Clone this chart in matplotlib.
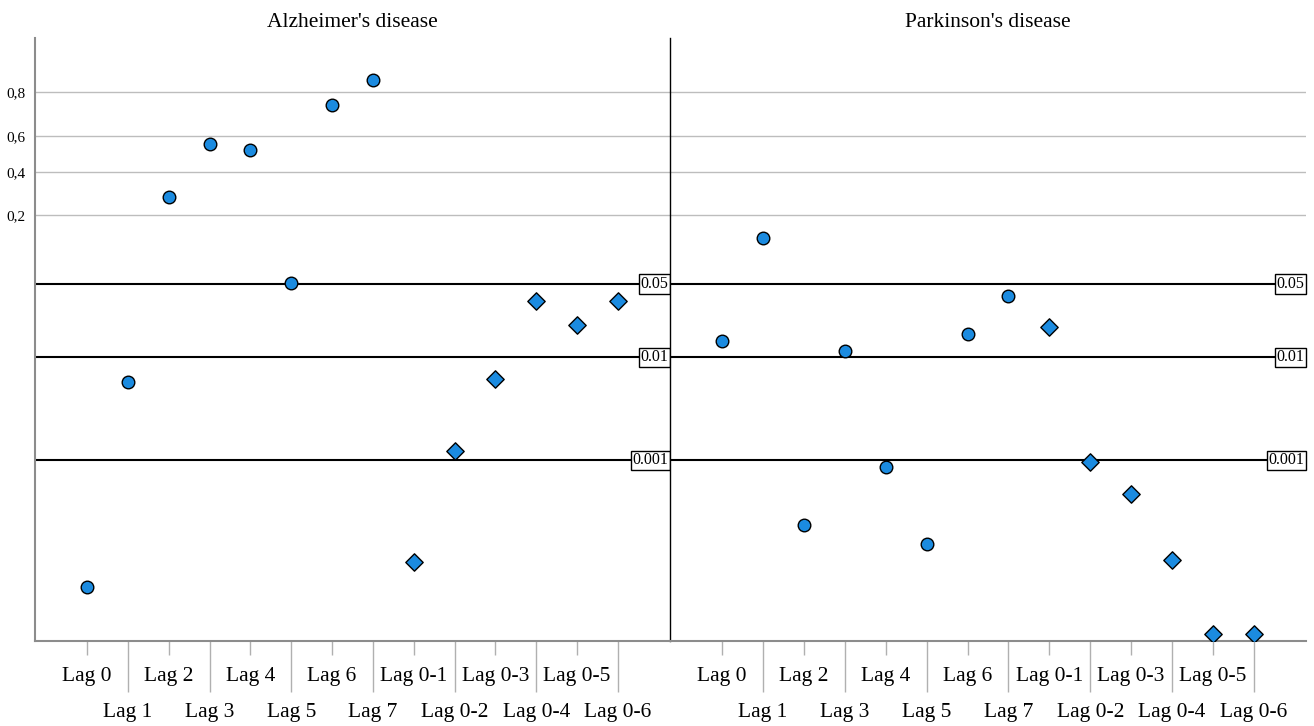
import numpy as np
import matplotlib.pyplot as plt

plt.rcParams['font.family'] = ['Liberation Serif', 'DejaVu Serif']

# ---------------- data (p-values) ----------------
lags = ["Lag 0", "Lag 1", "Lag 2", "Lag 3", "Lag 4", "Lag 5", "Lag 6", "Lag 7",
        "Lag 0-1", "Lag 0-2", "Lag 0-3", "Lag 0-4", "Lag 0-5", "Lag 0-6"]
ad_p = [5.9e-5, 0.0057, 0.267, 0.545, 0.511, 0.051, 0.732, 0.84,
        1.04e-4, 0.00122, 0.0062, 0.0344, 0.0203, 0.0344]
pd_p = [0.0142, 0.125, 2.38e-4, 0.0116, 8.55e-4, 1.54e-4, 0.0166, 0.0388,
        0.0195, 9.6e-4, 4.68e-4, 1.08e-4, 2.07e-5, 2.07e-5]
n_single = 8   # first 8 are single lags (circles), rest cumulative (diamonds)

titles = ["Alzheimer's disease", "Parkinson's disease"]
ytick_vals = [0.2, 0.4, 0.6, 0.8]
ytick_labels = ["0,2", "0,4", "0,6", "0,8"]
ref_p = [0.05, 0.01, 0.001]
ref_labels = ["0.05", "0.01", "0.001"]

# ---------------- y scale (p-value axis, piecewise on log10 p) ----------------
LOGK = np.array([-8, -3, -2, np.log10(0.05), np.log10(0.2), np.log10(0.4),
                 np.log10(0.6), np.log10(0.8), 0.0, 1.0])
POSK = np.array([-975.3, -460.3, -357.3, -284.0, -215.0, -171.7,
                 -135.7, -91.7, -38.0, 516.0])


def fwd(p):
    p = np.clip(np.asarray(p, dtype=float), 1e-12, None)
    return np.interp(np.log10(p), LOGK, POSK)


def inv(y):
    return 10 ** np.interp(np.asarray(y, dtype=float), POSK, LOGK)


blue = '#1b8be0'
grey = '#8c8c8c'

fig = plt.figure(figsize=(13.14, 7.26), dpi=100)
ax1 = fig.add_axes([35 / 1314, 85 / 726, 635 / 1314, 603 / 726])
ax2 = fig.add_axes([670 / 1314, 85 / 726, 636 / 1314, 603 / 726])

x = np.arange(len(lags))
for k, (ax, vals) in enumerate(zip([ax1, ax2], [ad_p, pd_p])):
    ax.set_yscale('function', functions=(fwd, inv))
    ax.set_ylim(float(inv(-641)), 1.0)
    ax.set_xlim(-1.275, len(lags) - 1 + 1.275)

    ax.set_yticks(ytick_vals)
    ax.grid(axis='y', color='#bdbdbd', lw=1, zorder=0)
    ax.tick_params(axis='y', length=0, pad=7, labelsize=11)
    if k == 0:
        ax.set_yticklabels(ytick_labels)
    else:
        ax.set_yticklabels([])

    for p, lab in zip(ref_p, ref_labels):
        ax.axhline(p, color='black', lw=1.5, zorder=2)
        ax.text(0.998, p, lab, transform=ax.get_yaxis_transform(), ha='right',
                va='center', fontsize=11.5, zorder=4,
                bbox=dict(boxstyle='square,pad=0.1', fc='white', ec='black', lw=1))

    ax.scatter(x[:n_single], vals[:n_single], marker='o', s=82, color=blue,
               edgecolor='black', linewidth=1, zorder=3)
    ax.scatter(x[n_single:], vals[n_single:], marker='D', s=78, color=blue,
               edgecolor='black', linewidth=1, zorder=3)

    # alternating two-row category labels
    ax.set_xticks(x[::2])
    ax.set_xticklabels(lags[::2])
    ax.set_xticks(x[1::2], minor=True)
    ax.set_xticklabels(lags[1::2], minor=True)
    ax.tick_params(axis='x', which='major', length=10, width=1, color='#b0b0b0',
                   pad=9, labelsize=15.5)
    ax.tick_params(axis='x', which='minor', length=37, width=1, color='#b0b0b0',
                   pad=8, labelsize=15.5)

    ax.set_title(titles[k], fontsize=15.5, pad=8)

    ax.spines['top'].set_visible(False)
    ax.spines['right'].set_visible(False)
    ax.spines['bottom'].set_color(grey)
    ax.spines['bottom'].set_linewidth(1.5)

ax1.spines['left'].set_color(grey)
ax1.spines['left'].set_linewidth(1.5)
ax2.spines['left'].set_color('black')
ax2.spines['left'].set_linewidth(1)

plt.savefig('out.png', dpi=100)
